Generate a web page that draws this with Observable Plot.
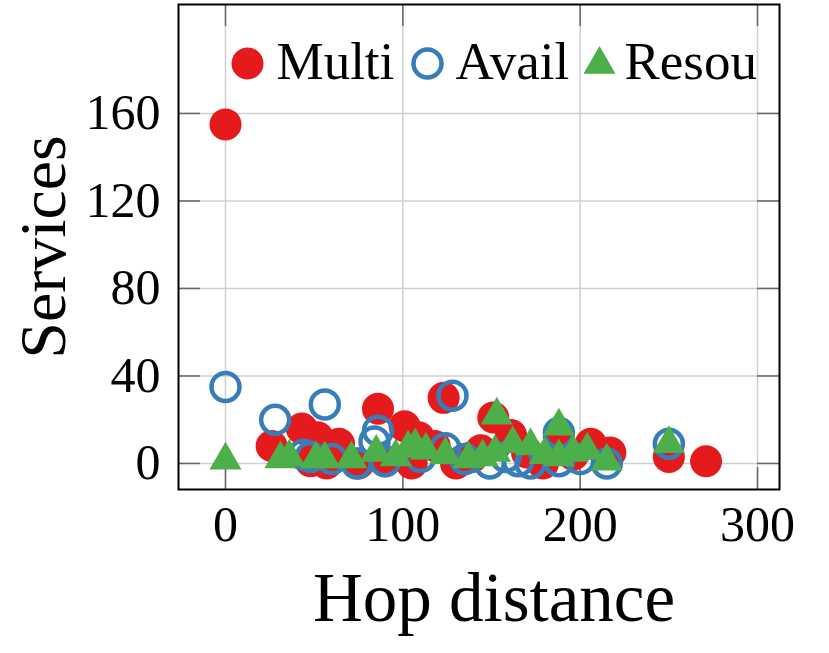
<!DOCTYPE html>
<html>
<head>
<meta charset="utf-8">
<script src="https://cdn.jsdelivr.net/npm/d3@7"></script>
<script src="https://cdn.jsdelivr.net/npm/@observablehq/plot@0.6"></script>
<style>
  html, body { margin: 0; padding: 0; background: #fff; }
</style>
</head>
<body>
<div id="chart"></div>
<script>
// ---- data (hop distance, services) ----
const multiX = [0, 26, 43, 52, 64, 48, 57, 75, 86, 90, 101, 105, 109, 118, 123, 130, 139, 144, 151, 161, 170, 179, 188, 196, 206, 217, 250, 271];
const multiY = [155, 8, 16, 12, 9, 1, 0, 0, 25, 1, 17, 0, 12, 8, 30, 0, 3, 6, 21, 13, 5, 0, 12, 4, 9, 5, 3, 1];

const availX = [0, 28, 44, 48, 56, 60, 74, 84, 86, 90, 110, 124, 128, 135, 149, 158, 165, 172, 188, 188, 200, 215, 250];
const availY = [35, 20, 4, 3, 27, 2, 0, 10, 15, 1, 3, 7, 31, 2, 0, 3, 1, 0, 14, 1, 2, 0, 9];

const resouX = [0, 31, 36, 51, 56, 71, 85, 96, 103, 107, 113, 124, 137, 145, 152, 153, 162, 172, 180, 188, 188, 196, 204, 215, 250];
const resouY = [1.5, 2, 3, 2, 2, 2, 5, 3, 7, 8, 6, 4, 2, 3, 5, 22, 9, 8, 4, 17, 3, 5, 6, 1, 9];

const seriesNames = ["Multi", "Avail", "Resou"];
const xTicks = [0, 100, 200, 300];
const yTicks = [0, 40, 80, 120, 160];
const xLabel = "Hop distance";
const yLabel = "Services";

const toPts = (xs, ys) => xs.map((x, i) => ({x, y: ys[i]}));
const multi = toPts(multiX, multiY);
const avail = toPts(availX, availY);
const resou = toPts(resouX, resouY);

const RED = "#e41a1c", BLUE = "#377eb8", GREEN = "#4daf4a";
const W = 829, H = 653, ML = 178, MR = 50, MT = 4, MB = 164;
const PW = W - ML - MR, PH = H - MT - MB;
const TICK = 22;
const FONT = "'Liberation Serif', 'DejaVu Serif', serif";

const chart = Plot.plot({
  width: W,
  height: H,
  marginLeft: ML,
  marginRight: MR,
  marginTop: MT,
  marginBottom: MB,
  style: {fontFamily: FONT, background: "#fff", color: "#000"},
  x: {domain: [-26.5, 312.4], axis: null},
  y: {domain: [-11.9, 209.8], axis: null},
  marks: [
    // grid
    Plot.ruleX(xTicks, {x: d => d, stroke: "#d0d0d0", strokeWidth: 1.5}),
    Plot.ruleY(yTicks, {y: d => d, stroke: "#d0d0d0", strokeWidth: 1.5}),
    // inward tick marks on all four sides
    Plot.ruleX(xTicks, {x: d => d, insetTop: PH - TICK, stroke: "#666", strokeWidth: 1.5}),
    Plot.ruleX(xTicks, {x: d => d, insetBottom: PH - TICK, stroke: "#666", strokeWidth: 1.5}),
    Plot.ruleY(yTicks, {y: d => d, insetRight: PW - TICK, stroke: "#666", strokeWidth: 1.5}),
    Plot.ruleY(yTicks, {y: d => d, insetLeft: PW - TICK, stroke: "#666", strokeWidth: 1.5}),
    // data
    Plot.dot(multi, {x: "x", y: "y", r: 16, fill: RED, stroke: "none"}),
    Plot.dot(avail, {x: "x", y: "y", r: 14, fill: "none", stroke: BLUE, strokeWidth: 4.5}),
    Plot.dot(resou, {x: "x", y: "y", r: 11.9, symbol: "triangle", fill: GREEN, stroke: "none"}),
    // frame
    Plot.frame({stroke: "#000", strokeWidth: 2}),
    // tick labels
    Plot.text(xTicks, {x: d => d, text: d => String(d), frameAnchor: "bottom", dy: 35, lineAnchor: "middle", fontSize: 50, fill: "#000"}),
    Plot.text(yTicks, {y: d => d, text: d => String(d), frameAnchor: "left", textAnchor: "end", dx: -18, lineAnchor: "middle", fontSize: 50, fill: "#000"}),
    // axis labels
    Plot.text([xLabel], {text: d => d, frameAnchor: "bottom", textAnchor: "middle", dx: 15, dy: 109, lineAnchor: "middle", fontSize: 69, letterSpacing: "1.5px", fill: "#000"}),
    Plot.text([yLabel], {text: d => d, frameAnchor: "left", textAnchor: "middle", dx: -135, rotate: -90, lineAnchor: "middle", fontSize: 66, fill: "#000"}),
    // legend
    Plot.dot([seriesNames[0]], {frameAnchor: "top-left", dx: 69, dy: 59, r: 16, fill: RED, stroke: "none"}),
    Plot.text([seriesNames[0]], {text: d => d, frameAnchor: "top-left", dx: 98, dy: 58, textAnchor: "start", lineAnchor: "middle", fontSize: 53, fill: "#000"}),
    Plot.dot([seriesNames[1]], {frameAnchor: "top-left", dx: 249, dy: 59, r: 14, fill: "none", stroke: BLUE, strokeWidth: 4.5}),
    Plot.text([seriesNames[1]], {text: d => d, frameAnchor: "top-left", dx: 277, dy: 58, textAnchor: "start", lineAnchor: "middle", fontSize: 53, fill: "#000"}),
    Plot.dot([seriesNames[2]], {frameAnchor: "top-left", dx: 421, dy: 60, r: 11.9, symbol: "triangle", fill: GREEN, stroke: "none"}),
    Plot.text([seriesNames[2]], {text: d => d, frameAnchor: "top-left", dx: 446, dy: 58, textAnchor: "start", lineAnchor: "middle", fontSize: 53, fill: "#000"})
  ]
});
document.getElementById("chart").append(chart);
</script>
</body>
</html>
